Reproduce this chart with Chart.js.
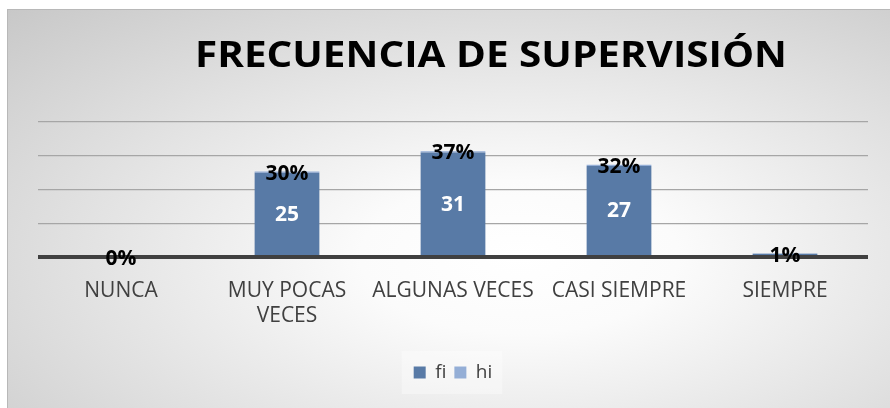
<!DOCTYPE html>
<html lang="es">

<head>
    <meta charset="UTF-8">
    <title>Frecuencia de supervisión</title>
    <script src="https://cdn.jsdelivr.net/npm/chart.js@4.4.1/dist/chart.umd.min.js"></script>
    <style>
        html, body { margin: 0; padding: 0; background: #ffffff; }
        .panel {
            position: absolute;
            left: 7px;
            top: 9px;
            width: 883px;
            height: 399px;
            border-top: 1px solid #b8b8b8;
            border-left: 1px solid #b8b8b8;
            box-sizing: border-box;
            background: radial-gradient(ellipse farthest-corner at 58% 62%, #ffffff 0%, #fbfbfb 22%, #c8c8c8 100%);
        }
        canvas { display: block; }
    </style>
</head>

<body>
    <div class="panel">
        <canvas id="supChart" width="882" height="398"></canvas>
    </div>
    <script>
        const titulo = 'FRECUENCIA DE SUPERVISIÓN';
        const categorias = ['NUNCA', ['MUY POCAS', 'VECES'], 'ALGUNAS VECES', 'CASI SIEMPRE', 'SIEMPRE'];
        const fi = [0, 25, 31, 27, 1];
        const hi = [0.00, 0.30, 0.37, 0.32, 0.01];
        const yMax = 40;
        const yPaso = 10;

        const fuente = "'Liberation Sans Narrow', 'Arial Narrow', 'Open Sans', sans-serif";

        // title drawn by hand so it can sit off-centre like the original
        const tituloPlugin = {
            id: 'tituloPlugin',
            afterDraw(chart) {
                const ctx = chart.ctx;
                ctx.save();
                ctx.font = 'bold 36px ' + fuente;
                ctx.fillStyle = '#000000';
                ctx.textBaseline = 'alphabetic';
                const w = ctx.measureText(titulo).width;
                const sx = 592 / w;
                ctx.translate(187, 57);
                ctx.scale(sx, 1);
                ctx.fillText(titulo, 0, 0);
                ctx.restore();
            }
        };

        const etiquetasPlugin = {
            id: 'etiquetasPlugin',
            afterDatasetsDraw(chart) {
                const ctx = chart.ctx;
                ctx.save();
                ctx.textAlign = 'center';
                ctx.textBaseline = 'middle';
                const mFi = chart.getDatasetMeta(0);
                mFi.data.forEach(function (el, i) {
                    if (fi[i] < 2) return;
                    ctx.font = 'bold 21px ' + fuente;
                    ctx.fillStyle = '#ffffff';
                    ctx.fillText(String(fi[i]), el.x, (el.y + el.base) / 2 + 1);
                });
                const mHi = chart.getDatasetMeta(1);
                mHi.data.forEach(function (el, i) {
                    ctx.font = 'bold 21px ' + fuente;
                    ctx.fillStyle = '#000000';
                    ctx.fillText(Math.round(hi[i] * 100) + '%', el.x, el.y + 2);
                });
                ctx.restore();
            }
        };

        const leyendaFondo = {
            id: 'leyendaFondo',
            beforeDraw(chart) {
                const lg = chart.legend;
                if (!lg || !lg.legendHitBoxes.length) return;
                const a = lg.legendHitBoxes[0];
                const b = lg.legendHitBoxes[lg.legendHitBoxes.length - 1];
                const ctx = chart.ctx;
                ctx.save();
                ctx.fillStyle = 'rgba(255,255,255,0.35)';
                ctx.fillRect(a.left - 12, a.top - 12, (b.left + b.width) - a.left + 22, a.height + 24);
                ctx.restore();
            }
        };

        var supChart = new Chart(document.getElementById('supChart').getContext('2d'), {
            type: 'bar',
            data: {
                labels: categorias,
                datasets: [{
                    label: 'fi',
                    data: fi,
                    backgroundColor: '#587aa6',
                    categoryPercentage: 1,
                    barPercentage: 0.39
                }, {
                    label: 'hi',
                    data: hi,
                    backgroundColor: '#94aed6',
                    categoryPercentage: 1,
                    barPercentage: 0.39
                }]
            },
            options: {
                responsive: false,
                animation: false,
                layout: {
                    padding: { left: 30, right: 22, top: 112, bottom: 16 }
                },
                plugins: {
                    title: { display: false },
                    tooltip: { enabled: false },
                    legend: {
                        position: 'bottom',
                        labels: {
                            font: { family: fuente, size: 19 },
                            color: '#404040',
                            boxWidth: 12,
                            boxHeight: 12,
                            padding: 8
                        }
                    }
                },
                scales: {
                    x: {
                        stacked: true,
                        grid: { display: false, drawTicks: false },
                        border: { display: false },
                        ticks: {
                            padding: 21,
                            maxRotation: 0,
                            autoSkip: false,
                            color: '#404040',
                            font: { family: fuente, size: 21 }
                        },
                        afterFit: function (scale) { scale.height = 98; }
                    },
                    y: {
                        stacked: true,
                        min: 0,
                        max: yMax,
                        ticks: { display: false, stepSize: yPaso },
                        border: { display: false },
                        grid: {
                            drawTicks: false,
                            color: function (c) { return c.tick && c.tick.value === 0 ? '#404040' : '#a6a6a6'; },
                            lineWidth: function (c) { return c.tick && c.tick.value === 0 ? 4 : 1.2; }
                        }
                    }
                }
            },
            plugins: [leyendaFondo, etiquetasPlugin, tituloPlugin]
        });
    </script>
</body>

</html>
